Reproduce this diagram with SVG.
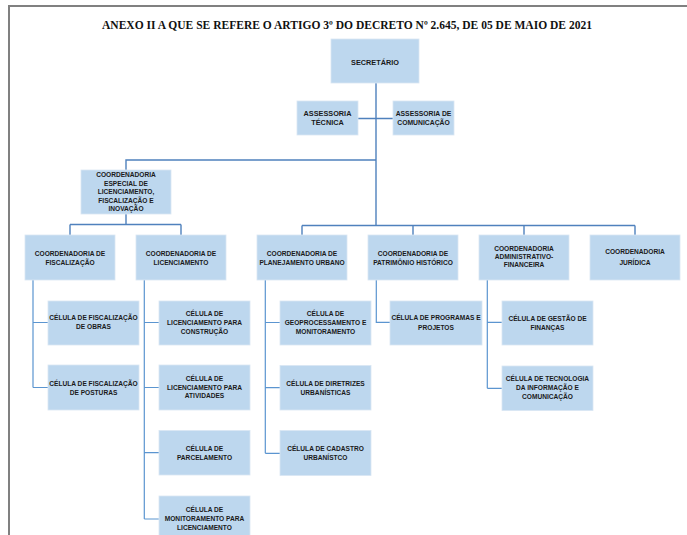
<svg xmlns="http://www.w3.org/2000/svg" width="687" height="535" viewBox="0 0 687 535">
<style>
.box{fill:#BDD7EE;stroke:#D9E6F3;stroke-width:0.8}
.t{font-family:"Liberation Sans",Arial,sans-serif;font-weight:bold;font-size:6.6px;fill:#1a1a1a;text-anchor:middle}
.big{font-size:7.3px}
.mid{font-size:6.8px}
.c{fill:none;stroke:#4F81BD;stroke-width:1.4}
.c2{fill:none;stroke:#5B95D0;stroke-width:1.2}
.title{font-family:"Liberation Serif","Times New Roman",serif;font-weight:bold;font-size:12px;fill:#111;text-anchor:middle}
</style>
<rect width="687" height="535" fill="#fff"/>
<g id="frame">
<path d="M8,6 H687 M9,5 V535" fill="none" stroke="#808080" stroke-width="2"/>
</g>
<text class="title" x="347" y="29" textLength="490" lengthAdjust="spacingAndGlyphs">ANEXO II A QUE SE REFERE O ARTIGO 3º DO DECRETO Nº 2.645, DE 05 DE MAIO DE 2021</text>
<g id="connectors">
<path class="c" d="M376,83 V225.5 M358,118.5 H393 M376,160 H126 V170 M126,214 V224.5 M70,224.5 H181 M70,224.5 V235 M181,224.5 V235 M302,225.5 H635 M302,225.5 V235 M413,225.5 V235 M524,225.5 V235 M635,225.5 V235"/>
<path class="c2" d="M33,280 V387.5 M33,322.5 H48 M33,387.5 H48"/>
<path class="c2" d="M144.3,280 V519 M144.3,322.5 H159 M144.3,387.5 H159 M144.3,452.7 H159 M144.3,519 H159"/>
<path class="c2" d="M265.3,280 V453.3 M265.3,322.5 H280 M265.3,387.7 H280 M265.3,453.3 H280"/>
<path class="c2" d="M376.3,280 V322.3 H390"/>
<path class="c2" d="M487.3,280 V388.3 M487.3,322.3 H502 M487.3,388.3 H502"/>
</g>
<g id="secretario"><rect class="box" x="331" y="39" width="88" height="44"/><text class="t big" x="375" y="64.6">SECRETÁRIO</text></g>
<g id="assessoria_tecnica"><rect class="box" x="297" y="101" width="61" height="34"/><text class="t big" x="327.5" y="115.6">ASSESSORIA</text><text class="t big" x="327.5" y="125.1">TÉCNICA</text></g>
<g id="assessoria_comunicacao"><rect class="box" x="393" y="101" width="61" height="34"/><text class="t mid" x="423.5" y="115.5">ASSESSORIA DE</text><text class="t mid" x="423.5" y="125">COMUNICAÇÃO</text></g>
<g id="coord_especial"><rect class="box" x="81" y="170" width="90" height="44"/><text class="t" x="126" y="176.7">COORDENADORIA</text><text class="t" x="126" y="185.7">ESPECIAL DE</text><text class="t" x="126" y="194.1">LICENCIAMENTO,</text><text class="t" x="126" y="202.7">FISCALIZAÇÃO E</text><text class="t" x="126" y="211.4">INOVAÇÃO</text></g>
<g id="coord_fiscalizacao"><rect class="box" x="25" y="235" width="90" height="45"/><text class="t" x="70" y="256.1">COORDENADORIA DE</text><text class="t" x="70" y="264.7">FISCALIZAÇÃO</text></g>
<g id="coord_licenciamento"><rect class="box" x="136" y="235" width="90" height="45"/><text class="t" x="181" y="256.1">COORDENADORIA DE</text><text class="t" x="181" y="264.7">LICENCIAMENTO</text></g>
<g id="coord_planejamento"><rect class="box" x="257" y="235" width="90" height="45"/><text class="t" x="302" y="256.1">COORDENADORIA DE</text><text class="t" x="302" y="264.7">PLANEJAMENTO URBANO</text></g>
<g id="coord_patrimonio"><rect class="box" x="368" y="235" width="90" height="45"/><text class="t" x="413" y="256.1">COORDENADORIA DE</text><text class="t" x="413" y="264.7">PATRIMÔNIO HISTÓRICO</text></g>
<g id="coord_adm_fin"><rect class="box" x="479" y="235" width="90" height="45"/><text class="t" x="524" y="250.7">COORDENADORIA</text><text class="t" x="524" y="259.4">ADMINISTRATIVO-</text><text class="t" x="524" y="267.4">FINANCEIRA</text></g>
<g id="coord_juridica"><rect class="box" x="590" y="235" width="90" height="45"/><text class="t" x="635" y="253.7">COORDENADORIA</text><text class="t" x="635" y="265.4">JURÍDICA</text></g>
<g id="cel_fisc_obras"><rect class="box" x="48" y="301" width="91" height="44"/><text class="t" x="93.5" y="319.7">CÉLULA DE FISCALIZAÇÃO</text><text class="t" x="93.5" y="328.7">DE OBRAS</text></g>
<g id="cel_fisc_posturas"><rect class="box" x="48" y="365" width="91" height="45"/><text class="t" x="93.5" y="385.7">CÉLULA DE FISCALIZAÇÃO</text><text class="t" x="93.5" y="394.7">DE POSTURAS</text></g>
<g id="cel_lic_construcao"><rect class="box" x="159" y="301" width="91" height="44"/><text class="t" x="204.5" y="316.1">CÉLULA DE</text><text class="t" x="204.5" y="325.1">LICENCIAMENTO PARA</text><text class="t" x="204.5" y="333.7">CONSTRUÇÃO</text></g>
<g id="cel_lic_atividades"><rect class="box" x="159" y="365" width="91" height="45"/><text class="t" x="204.5" y="380.7">CÉLULA DE</text><text class="t" x="204.5" y="389.7">LICENCIAMENTO PARA</text><text class="t" x="204.5" y="398.4">ATIVIDADES</text></g>
<g id="cel_parcelamento"><rect class="box" x="159" y="430.5" width="91" height="44.5"/><text class="t" x="204.5" y="450.7">CÉLULA DE</text><text class="t" x="204.5" y="459.7">PARCELAMENTO</text></g>
<g id="cel_monitoramento"><rect class="box" x="159" y="496" width="91" height="45"/><text class="t" x="204.5" y="511.7">CÉLULA DE</text><text class="t" x="204.5" y="521.1">MONITORAMENTO PARA</text><text class="t" x="204.5" y="529.7">LICENCIAMENTO</text></g>
<g id="cel_geoprocessamento"><rect class="box" x="280" y="301" width="91" height="44"/><text class="t" x="325.5" y="316.1">CÉLULA DE</text><text class="t" x="325.5" y="325.1">GEOPROCESSAMENTO E</text><text class="t" x="325.5" y="333.7">MONITORAMENTO</text></g>
<g id="cel_diretrizes"><rect class="box" x="280" y="365.5" width="91" height="44.5"/><text class="t" x="325.5" y="386.4">CÉLULA DE DIRETRIZES</text><text class="t" x="325.5" y="395.4">URBANÍSTICAS</text></g>
<g id="cel_cadastro"><rect class="box" x="280" y="430.5" width="91" height="45"/><text class="t" x="325.5" y="450.7">CÉLULA DE CADASTRO</text><text class="t" x="325.5" y="459.7">URBANÍSTCO</text></g>
<g id="cel_programas"><rect class="box" x="390" y="301" width="92" height="44"/><text class="t" x="436" y="320.4">CÉLULA DE PROGRAMAS E</text><text class="t" x="436" y="329.7">PROJETOS</text></g>
<g id="cel_financas"><rect class="box" x="502" y="301" width="91" height="44"/><text class="t" x="547.5" y="320.7">CÉLULA DE GESTÃO DE</text><text class="t" x="547.5" y="329.7">FINANÇAS</text></g>
<g id="cel_tecnologia"><rect class="box" x="502" y="366" width="91" height="44.5"/><text class="t" x="547.5" y="381.4">CÉLULA DE TECNOLOGIA</text><text class="t" x="547.5" y="390.4">DA INFORMAÇÃO E</text><text class="t" x="547.5" y="398.7">COMUNICAÇÃO</text></g>
</svg>
